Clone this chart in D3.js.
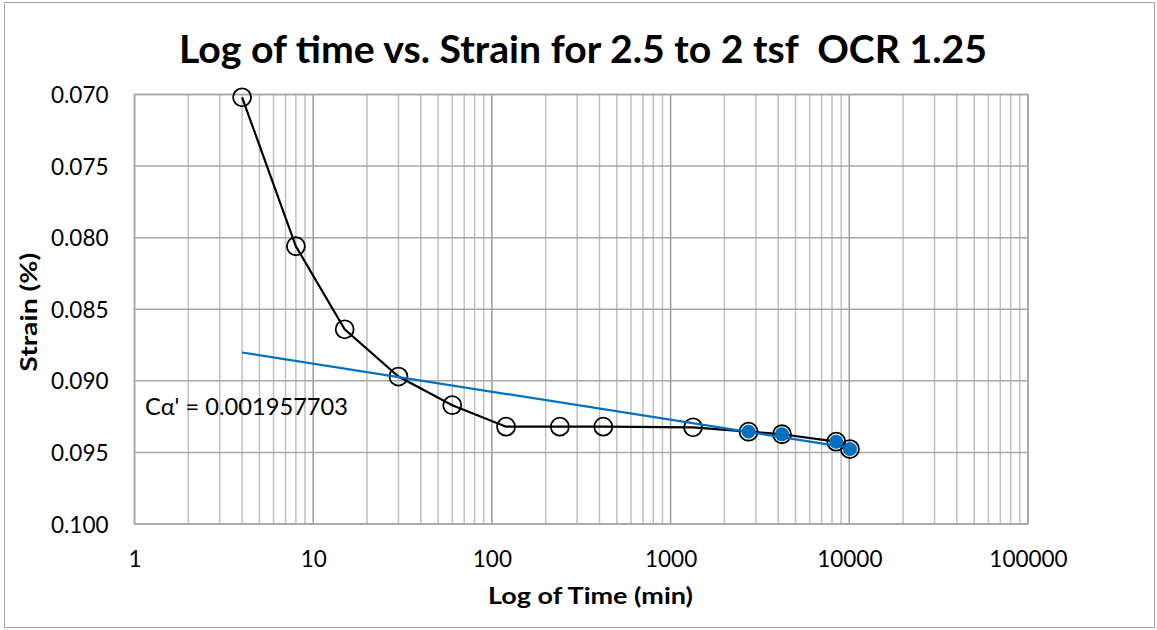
<!DOCTYPE html>
<html><head><meta charset="utf-8">
<script src="https://cdn.jsdelivr.net/npm/d3@7"></script>
<style>html,body{margin:0;padding:0;background:#fff;}svg{display:block;} text{white-space:pre;}</style>
</head><body>
<svg id="c" width="1157" height="630"></svg>
<script>
// Data
const timeAll = [4, 8, 15, 30, 60, 120, 240, 420, 1335, 2730, 4200, 8450, 10080];
const strainAll = [0.0702, 0.0806, 0.0864, 0.0897, 0.0917, 0.0932, 0.0932, 0.0932, 0.09325, 0.09355, 0.09373, 0.09425, 0.09477];
const timeFit = [2730, 4200, 8450, 10080];
const strainFit = [0.09355, 0.09373, 0.09425, 0.09477];
const trendTime = [4, 10080];
const trendStrain = [0.08802, 0.09468];
const xTicks = [1, 10, 100, 1000, 10000, 100000];
const yTicks = [0.070, 0.075, 0.080, 0.085, 0.090, 0.095, 0.100];
const titleText = "Log of time vs. Strain for 2.5 to 2 tsf  OCR 1.25";
const xTitle = "Log of Time (min)";
const yTitle = "Strain (%)";
const annot = "Cα' = 0.001957703";

const svg = d3.select("#c");
const L = 134.5, R = 1028, T = 94.5, B = 524;
const x = d3.scaleLog().domain([1, 100000]).range([L, R]);
const y = d3.scaleLinear().domain([0.070, 0.100]).range([T, B]);
const font = "Lato, 'Open Sans', sans-serif";

svg.append("rect").attr("x", 4.5).attr("y", 2.5).attr("width", 1150).attr("height", 625)
  .attr("fill", "#fff").attr("stroke", "#A6A6A6").attr("stroke-width", 1);

// minor vertical gridlines
const minor = [];
for (let d = 1; d < 100000; d *= 10) for (let k = 2; k <= 9; k++) minor.push(d * k);
svg.append("g").selectAll("line").data(minor).join("line")
  .attr("x1", d => x(d)).attr("x2", d => x(d)).attr("y1", T).attr("y2", B)
  .attr("stroke", "#BFBFBF").attr("stroke-width", 1.5);
// major vertical
svg.append("g").selectAll("line").data(xTicks).join("line")
  .attr("x1", d => x(d)).attr("x2", d => x(d)).attr("y1", T).attr("y2", B)
  .attr("stroke", "#999999").attr("stroke-width", 1.5);
// horizontal
svg.append("g").selectAll("line").data(yTicks).join("line")
  .attr("x1", L).attr("x2", R).attr("y1", d => y(d)).attr("y2", d => y(d))
  .attr("stroke", "#A6A6A6").attr("stroke-width", 1.5);
svg.append("rect").attr("x", L).attr("y", T).attr("width", R - L).attr("height", B - T)
  .attr("fill", "none").attr("stroke", "#A6A6A6").attr("stroke-width", 1.5);

// axes labels
const xAxis = d3.axisBottom(x).tickValues(xTicks).tickFormat(d3.format("d")).tickSize(0).tickPadding(0);
const gx = svg.append("g").attr("transform", `translate(0,${B})`).call(xAxis);
gx.select(".domain").remove();
gx.selectAll("text").attr("font-family", font).attr("font-size", 22.5).attr("fill", "#000")
  .attr("dy", null).attr("y", 42.5);

const yAxis = d3.axisLeft(y).tickValues(yTicks).tickFormat(d3.format(".3f")).tickSize(0).tickPadding(26);
const gy = svg.append("g").attr("transform", `translate(${L},0)`).call(yAxis);
gy.select(".domain").remove();
gy.selectAll("text").attr("font-family", font).attr("font-size", 22.5).attr("fill", "#000")
  .attr("dy", null).attr("y", 8);

// titles
svg.append("text").attr("x", 179).attr("y", 62.7).attr("xml:space", "preserve")
  .attr("font-family", font).attr("font-weight", "bold").attr("font-size", 38)
  .attr("textLength", 808).attr("lengthAdjust", "spacingAndGlyphs").text(titleText);
svg.append("text").attr("x", 488).attr("y", 604)
  .attr("font-family", font).attr("font-weight", "bold").attr("font-size", 22)
  .attr("textLength", 205).attr("lengthAdjust", "spacingAndGlyphs").text(xTitle);
svg.append("text").attr("transform", `translate(37,371.7) rotate(-90)`)
  .attr("font-family", font).attr("font-weight", "bold").attr("font-size", 22)
  .attr("textLength", 119).attr("lengthAdjust", "spacingAndGlyphs").text(yTitle);

// data line
const pts = timeAll.map((t, i) => [t, strainAll[i]]);
const line = d3.line().x(d => x(d[0])).y(d => y(d[1]));
svg.append("path").attr("d", line(pts)).attr("fill", "none").attr("stroke", "#000").attr("stroke-width", 2.2);
svg.append("g").selectAll("circle").data(pts).join("circle")
  .attr("cx", d => x(d[0])).attr("cy", d => y(d[1])).attr("r", 9)
  .attr("fill", "none").attr("stroke", "#000").attr("stroke-width", 1.8);

// trend line
const tpts = trendTime.map((t, i) => [t, trendStrain[i]]);
svg.append("path").attr("d", line(tpts)).attr("fill", "none").attr("stroke", "#0070C0").attr("stroke-width", 2.2);
const fpts = timeFit.map((t, i) => [t, strainFit[i]]);
svg.append("g").selectAll("circle").data(fpts).join("circle")
  .attr("cx", d => x(d[0])).attr("cy", d => y(d[1])).attr("r", 7)
  .attr("fill", "#0070C0");

svg.append("text").attr("x", 145).attr("y", 415).attr("font-family", font).attr("font-size", 23.5)
  .attr("textLength", 203).attr("lengthAdjust", "spacingAndGlyphs")
  .attr("fill", "#000").text(annot);
</script>
</body></html>
